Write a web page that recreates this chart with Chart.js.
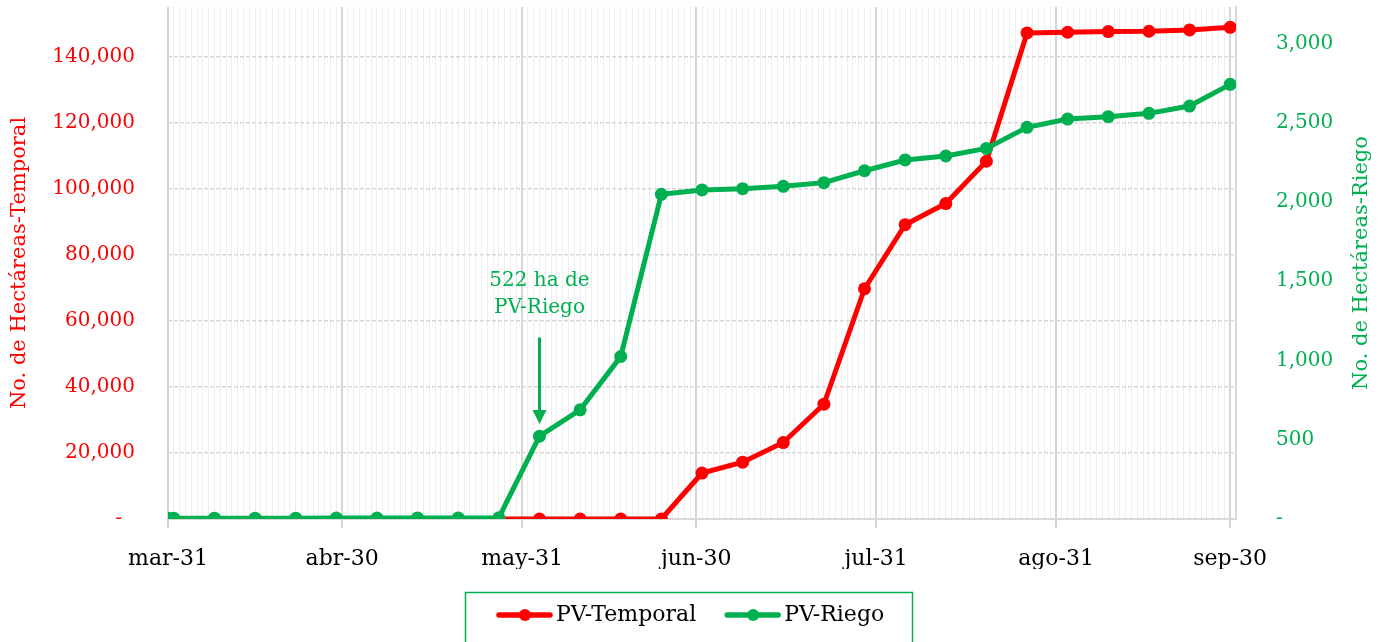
<!DOCTYPE html>
<html>
<head>
<meta charset="utf-8">
<script src="https://cdn.jsdelivr.net/npm/chart.js@4.4.1/dist/chart.umd.min.js"></script>
<style>
  html, body { margin: 0; padding: 0; background: #fff; }
</style>
</head>
<body>
<canvas id="grafica" width="1382" height="642"></canvas>
<script>
// fechas de corte (semanales)
const fechas = [
  '2023-03-31', '2023-04-01', '2023-04-08', '2023-04-15', '2023-04-22', '2023-04-29',
  '2023-05-06', '2023-05-13', '2023-05-20', '2023-05-27', '2023-06-03', '2023-06-10',
  '2023-06-17', '2023-06-24', '2023-07-01', '2023-07-08', '2023-07-15', '2023-07-22',
  '2023-07-29', '2023-08-05', '2023-08-12', '2023-08-19', '2023-08-26', '2023-09-02',
  '2023-09-09', '2023-09-16', '2023-09-23', '2023-09-30'
];
const pvTemporal = [
  0, 0, 0, 0, 0, 0,
  0, 0, 0, 0, 0, 0,
  0, 0, 13900, 17200, 23150, 34750,
  69700, 89100, 95500, 108300, 147150, 147350,
  147550, 147650, 148050, 148850
];
const pvRiego = [
  4, 4, 5, 5, 5, 6,
  6, 7, 7, 8, 522, 689,
  1025, 2048, 2076, 2084, 2099, 2122,
  2197, 2265, 2290, 2338, 2471, 2523,
  2538, 2559, 2605, 2742
];
const fechasEje = ['2023-03-31', '2023-04-30', '2023-05-31', '2023-06-30', '2023-07-31', '2023-08-31', '2023-09-30'];
const etiquetasEje = ['mar-31', 'abr-30', 'may-31', 'jun-30', 'jul-31', 'ago-31', 'sep-30'];
const fechaFinEje = '2023-10-01';
const ticksTemporal = [0, 20000, 40000, 60000, 80000, 100000, 120000, 140000];
const ticksRiego = [0, 500, 1000, 1500, 2000, 2500, 3000];
const maxTemporal = 155000;
const maxRiego = 3230;
const tituloTemporal = 'No. de Hectáreas-Temporal';
const tituloRiego = 'No. de Hectáreas-Riego';

// nota de la flecha
const notaFecha = '2023-06-03';
const notaTexto = ['522 ha de', 'PV-Riego'];
const notaTextoValor = [1500, 1330];
const notaFlechaDesde = 1145;
const notaFlechaHasta = 600;

const ROJO = '#ff0000';
const VERDE = '#00b050';
const FUENTE = '"DejaVu Serif", serif';

function dia(s) {
  return (Date.parse(s) - Date.parse(fechas[0])) / 86400000;
}
const diasEje = fechasEje.map(dia);
const etiquetaDe = {};
diasEje.forEach((d, i) => { etiquetaDe[d] = etiquetasEje[i]; });
const esMayor = c => c.tick && diasEje.includes(c.tick.value);

const notaPlugin = {
  id: 'nota',
  afterDatasetsDraw(chart) {
    const ctx = chart.ctx;
    const x = chart.scales.x.getPixelForValue(dia(notaFecha));
    const y1 = chart.scales.y1;
    ctx.save();
    ctx.fillStyle = VERDE;
    ctx.strokeStyle = VERDE;
    ctx.font = '20px ' + FUENTE;
    ctx.textAlign = 'center';
    ctx.textBaseline = 'middle';
    notaTexto.forEach((t, i) => ctx.fillText(t, x, y1.getPixelForValue(notaTextoValor[i])));
    const ya = y1.getPixelForValue(notaFlechaDesde);
    const yb = y1.getPixelForValue(notaFlechaHasta);
    ctx.lineWidth = 3;
    ctx.beginPath();
    ctx.moveTo(x, ya);
    ctx.lineTo(x, yb - 12);
    ctx.stroke();
    ctx.beginPath();
    ctx.moveTo(x - 7, yb - 14);
    ctx.lineTo(x + 7, yb - 14);
    ctx.lineTo(x, yb);
    ctx.closePath();
    ctx.fill();
    ctx.restore();
  }
};

// título derecho leído de abajo hacia arriba, como en el original
const tituloDerPlugin = {
  id: 'tituloDer',
  afterDraw(chart) {
    const ctx = chart.ctx;
    const a = chart.chartArea;
    ctx.save();
    ctx.translate(1362, (a.top + a.bottom) / 2);
    ctx.rotate(-Math.PI / 2);
    ctx.fillStyle = VERDE;
    ctx.font = '21px ' + FUENTE;
    ctx.textAlign = 'center';
    ctx.textBaseline = 'middle';
    ctx.fillText(tituloRiego, 0, 0);
    ctx.restore();
  }
};

// leyenda con marco verde
const leyendaPlugin = {
  id: 'leyendaMarco',
  afterDraw(chart) {
    const ctx = chart.ctx;
    ctx.save();
    ctx.strokeStyle = VERDE;
    ctx.lineWidth = 1.5;
    ctx.strokeRect(465.5, 592.5, 447, 60);
    ctx.font = '22px ' + FUENTE;
    ctx.textBaseline = 'middle';
    ctx.textAlign = 'left';
    const yc = 615;
    let x = 497;
    chart.data.datasets.forEach(ds => {
      ctx.strokeStyle = ds.borderColor;
      ctx.fillStyle = ds.borderColor;
      ctx.lineWidth = 5.5;
      ctx.lineCap = 'round';
      ctx.beginPath();
      ctx.moveTo(x + 2, yc);
      ctx.lineTo(x + 53, yc);
      ctx.stroke();
      ctx.beginPath();
      ctx.arc(x + 28, yc, 6, 0, Math.PI * 2);
      ctx.fill();
      ctx.fillStyle = '#000';
      ctx.fillText(ds.label, x + 59, yc);
      x += 59 + ctx.measureText(ds.label).width + 29;
    });
    ctx.restore();
  }
};

const ctx = document.getElementById('grafica').getContext('2d');
const grafica = new Chart(ctx, {
  type: 'line',
  data: {
    datasets: [{
      label: 'PV-Temporal',
      data: fechas.map((f, i) => ({ x: dia(f), y: pvTemporal[i] })),
      borderColor: ROJO,
      backgroundColor: ROJO,
      borderWidth: 5,
      pointRadius: 6.5,
      pointBorderWidth: 0,
      yAxisID: 'y',
      order: 2
    }, {
      label: 'PV-Riego',
      data: fechas.map((f, i) => ({ x: dia(f), y: pvRiego[i] })),
      borderColor: VERDE,
      backgroundColor: VERDE,
      borderWidth: 5,
      pointRadius: 6.5,
      pointBorderWidth: 0,
      yAxisID: 'y1',
      order: 1
    }]
  },
  options: {
    responsive: false,
    animation: false,
    layout: { padding: { top: 7, bottom: 73, left: 0, right: 0 } },
    plugins: {
      legend: { display: false },
      tooltip: { enabled: false }
    },
    scales: {
      x: {
        type: 'linear',
        min: 0,
        max: dia(fechaFinEje),
        afterBuildTicks: axis => {
          const t = [];
          for (let d = 0; d <= dia(fechaFinEje); d++) t.push({ value: d });
          axis.ticks = t;
        },
        afterFit: s => { s.height = 50; s.paddingLeft = 0; s.paddingRight = 0; },
        grid: {
          color: c => esMayor(c) ? '#d6d6d6' : '#eeeeee',
          lineWidth: c => esMayor(c) ? 2 : 1,
          tickColor: c => esMayor(c) ? '#d6d6d6' : 'rgba(0,0,0,0)',
          tickLength: 9
        },
        border: { display: true, color: '#d9d9d9', width: 2 },
        ticks: {
          autoSkip: false,
          maxRotation: 0,
          padding: 18,
          color: '#000',
          font: { family: FUENTE, size: 22 },
          callback: v => etiquetaDe[v] || ''
        }
      },
      y: {
        position: 'left',
        min: 0,
        max: maxTemporal,
        afterBuildTicks: axis => { axis.ticks = ticksTemporal.map(v => ({ value: v })); },
        afterFit: s => { s.width = 168; s.paddingTop = 0; s.paddingBottom = 0; },
        grid: { color: '#d9d9d9', lineWidth: 1.5, drawTicks: false },
        border: { display: false, dash: [4, 2] },
        ticks: {
          padding: 33,
          color: ROJO,
          font: { family: FUENTE, size: 20 },
          callback: v => v === 0 ? '-  ' : v.toLocaleString('en-US')
        },
        title: {
          display: true,
          text: tituloTemporal,
          color: ROJO,
          font: { family: FUENTE, size: 21 },
          padding: { top: 7, bottom: 0 }
        }
      },
      y1: {
        position: 'right',
        min: 0,
        max: maxRiego,
        afterBuildTicks: axis => { axis.ticks = ticksRiego.map(v => ({ value: v })); },
        afterFit: s => { s.width = 146; s.paddingTop = 0; s.paddingBottom = 0; },
        grid: { display: false },
        border: { display: true, color: '#d9d9d9', width: 2 },
        ticks: {
          padding: 32,
          color: VERDE,
          font: { family: FUENTE, size: 20 },
          callback: v => v === 0 ? '-' : v.toLocaleString('en-US')
        }
      }
    }
  },
  plugins: [notaPlugin, tituloDerPlugin, leyendaPlugin]
});
</script>
</body>
</html>
